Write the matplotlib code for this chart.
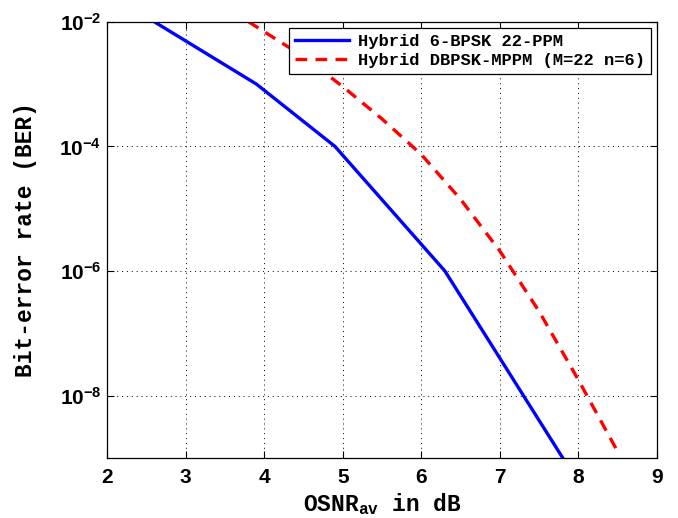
import matplotlib
matplotlib.use('Agg')
import matplotlib.pyplot as plt
import numpy as np

# Hybrid 6-BPSK 22-PPM (x in dB, log10 of BER)
osnr_hyb = [2.6, 3.9, 4.9, 6.3, 7.8]
logber_hyb = [-2.0, -3.0, -4.0, -6.0, -9.0]

# Hybrid DBPSK-MPPM (M=22 n=6)
osnr_mppm = [3.8, 4.0, 4.5, 5.0, 5.5, 6.0, 6.5, 7.0, 7.5, 8.0, 8.5]
logber_mppm = [-2.0, -2.16, -2.56, -3.04, -3.56, -4.13, -4.85, -5.68, -6.65, -7.75, -8.9]

labels = ['Hybrid 6-BPSK 22-PPM', 'Hybrid DBPSK-MPPM (M=22 n=6)']
yticks = [1e-8, 1e-6, 1e-4, 1e-2]
ytick_labels = [r'$\mathbf{10^{-8}}$', r'$\mathbf{10^{-6}}$', r'$\mathbf{10^{-4}}$', r'$\mathbf{10^{-2}}$']

plt.rcParams['mathtext.fontset'] = 'custom'
plt.rcParams['mathtext.bf'] = 'Liberation Sans:bold'
plt.rcParams['mathtext.rm'] = 'Liberation Mono:bold'
plt.rcParams['mathtext.it'] = 'Liberation Mono:bold'

fig = plt.figure(figsize=(6.78, 5.18), dpi=100)
ax = fig.add_axes([0.158, 0.116, 0.811, 0.842])

ax.semilogy(osnr_hyb, 10.0 ** np.array(logber_hyb), '-', color='#0000ff', lw=2.4, label=labels[0])
ax.semilogy(osnr_mppm, 10.0 ** np.array(logber_mppm), '--', color='#ff0000', lw=2.4,
            dashes=(3.5, 2.5), label=labels[1])

ax.set_xlim(2, 9)
ax.set_ylim(1e-9, 1e-2)
ax.set_xticks(range(2, 10))
ax.set_yticks(yticks)
ax.set_yticklabels(ytick_labels)
ax.minorticks_off()

for lab in ax.get_xticklabels():
    lab.set_fontfamily('Liberation Sans')
    lab.set_fontweight('bold')
ax.tick_params(direction='in', length=5, width=0.8, labelsize=15, top=True, right=True)
ax.tick_params(axis='x', pad=7)
ax.tick_params(axis='y', pad=4)

ax.grid(True, linestyle=(0, (1, 4)), color='black', linewidth=0.7)
for s in ax.spines.values():
    s.set_linewidth(0.9)

ax.set_xlabel(r'OSNR$_{\mathrm{av}}$ in dB', fontsize=16.5, fontfamily='Liberation Mono',
              fontweight='bold', labelpad=3)
ax.set_ylabel('Bit-error rate (BER)', fontsize=16.5, fontfamily='Liberation Mono',
              fontweight='bold', labelpad=16)

leg = ax.legend(loc='upper right', prop={'family': 'Liberation Mono', 'weight': 'bold', 'size': 12.3},
                fancybox=False, edgecolor='black', framealpha=1, borderpad=0.35, handlelength=3.2,
                labelspacing=0.25, borderaxespad=0.35, handletextpad=0.5)
leg.get_frame().set_linewidth(0.9)

fig.savefig('out.png', dpi=100)
